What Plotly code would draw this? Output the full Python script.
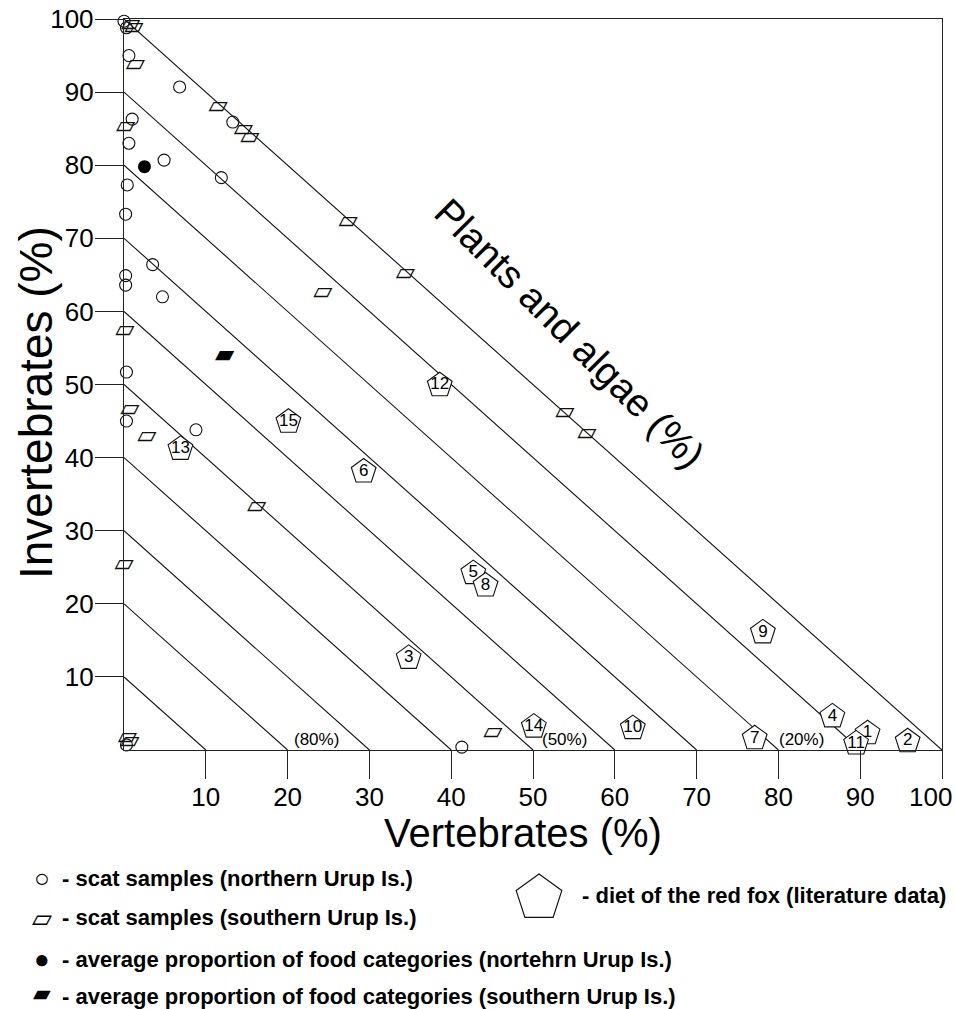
import plotly.graph_objects as go

# ---------------- data ----------------
# scat samples, northern Urup Is. (open circles): vertebrates %, invertebrates %
north_vert = [0.0, 0.3, 0.6, 6.8, 13.3, 1.0, 0.6, 4.9, 11.9, 0.4,
              0.2, 3.5, 0.2, 0.2, 4.7, 0.3, 0.3, 8.8, 0.3, 41.3]
north_invert = [99.7, 98.8, 95.0, 90.7, 85.9, 86.3, 83.0, 80.7, 78.3, 77.3,
                73.3, 66.4, 64.9, 63.6, 62.0, 51.7, 45.0, 43.8, 0.7, 0.4]

# scat samples, southern Urup Is. (open parallelograms)
south_vert = [0.8, 1.2, 1.4, 11.5, 14.6, 15.4, 0.2, 27.4, 34.4, 24.3,
              53.9, 56.6, 0.1, 0.7, 2.8, 16.2, 0.0, 0.4, 0.7, 45.1]
south_invert = [99.2, 98.8, 93.8, 88.0, 84.9, 83.8, 85.2, 72.3, 65.1, 62.5,
                46.1, 43.2, 57.3, 46.5, 42.9, 33.3, 25.4, 1.7, 1.1, 2.3]

# average proportions
mean_north_vert, mean_north_invert = [2.5], [79.8]
mean_south_vert, mean_south_invert = [12.3], [54.0]

# diet of the red fox (literature data), numbered pentagons
fox_ids = ["1", "2", "3", "4", "5", "6", "7", "8", "9", "10", "11", "12", "13", "14", "15"]
fox_vert = [90.9, 95.8, 34.8, 86.6, 42.7, 29.3, 77.1, 44.2, 78.1, 62.2, 89.5, 38.6, 6.9, 50.1, 20.1]
fox_invert = [2.3, 1.2, 12.6, 4.6, 24.2, 38.1, 1.6, 22.5, 16.1, 3.0, 0.9, 49.9, 41.2, 3.2, 44.9]

# iso-lines of plants and algae share (vertebrates + invertebrates = level)
iso_levels = [10, 20, 30, 40, 50, 60, 70, 80, 90, 100]
iso_label_text = ["(80%)", "(50%)", "(20%)"]
iso_label_x = [20.5, 50.9, 79.8]
tick_vals = [10, 20, 30, 40, 50, 60, 70, 80, 90, 100]
x_tick_text = ["10", "20", "30", "40", "50", "60", "70", "80", "90", ""]  # "100" placed separately

FONT = "Liberation Sans, Arial, sans-serif"
SYM = "DejaVu Sans, sans-serif"
INK = "#111111"

fig = go.Figure()

# iso-lines
lx, ly = [], []
for k in iso_levels:
    lx += [k, 0, None]
    ly += [0, k, None]
fig.add_trace(go.Scatter(x=lx, y=ly, mode="lines",
                         line=dict(color=INK, width=1.1),
                         hoverinfo="skip", showlegend=False))

# northern samples
fig.add_trace(go.Scatter(x=north_vert, y=north_invert, mode="markers",
                         marker=dict(symbol="circle-open", size=12, color=INK,
                                     line=dict(color=INK, width=1.1)),
                         cliponaxis=False, showlegend=False))
# southern samples (parallelogram glyphs)
fig.add_trace(go.Scatter(x=south_vert, y=south_invert, mode="text",
                         text=["\u25b1"] * len(south_vert),
                         textposition="middle center",
                         textfont=dict(family=SYM, size=25, color=INK),
                         cliponaxis=False, showlegend=False))
# averages
fig.add_trace(go.Scatter(x=mean_north_vert, y=mean_north_invert, mode="markers",
                         marker=dict(symbol="circle", size=13, color="black"),
                         cliponaxis=False, showlegend=False))
fig.add_trace(go.Scatter(x=mean_south_vert, y=mean_south_invert, mode="text",
                         text=["\u25b0"], textposition="middle center",
                         textfont=dict(family=SYM, size=25, color="black"),
                         cliponaxis=False, showlegend=False))
# red fox literature data
fig.add_trace(go.Scatter(x=fox_vert, y=fox_invert, mode="markers+text",
                         text=fox_ids, textposition="middle center",
                         textfont=dict(family=FONT, size=17, color="black"),
                         marker=dict(symbol="pentagon", size=26, color="white",
                                     line=dict(color=INK, width=1.1)),
                         cliponaxis=False, showlegend=False))

ann = []
for lab, xl in zip(iso_label_text, iso_label_x):
    ann.append(dict(x=xl, y=1.5, xref="x", yref="y", text=lab, showarrow=False,
                    xanchor="left", yanchor="middle",
                    font=dict(family=FONT, size=17, color="black")))


def px_x(p):
    return (p - 124) / 818.0


def px_y(p):
    return (750 - p) / 731.0


# last x tick label, nudged left so it stays inside the page (as in the original)
ann.append(dict(x=px_x(930), y=px_y(797), xref="paper", yref="paper",
                text="100", showarrow=False, xanchor="center", yanchor="middle",
                font=dict(family=FONT, size=26, color="black")))

ann.append(dict(x=px_x(523), y=px_y(833), xref="paper", yref="paper",
                text="Vertebrates (%)", showarrow=False,
                xanchor="center", yanchor="middle",
                font=dict(family=FONT, size=40, color="black")))
ann.append(dict(x=px_x(36), y=px_y(403), xref="paper", yref="paper",
                text="Invertebrates (%)", showarrow=False, textangle=-90,
                xanchor="center", yanchor="middle",
                font=dict(family=FONT, size=46, color="black")))
ann.append(dict(x=px_x(570), y=px_y(333), xref="paper", yref="paper",
                text="Plants and algae (%)", showarrow=False, textangle=45,
                xanchor="center", yanchor="middle",
                font=dict(family=FONT, size=39, color="black")))

legend_rows = [
    ("\u25cb", FONT, 26, 878, 878, "- scat samples (northern Urup Is.)"),
    ("\u25b1", SYM, 26, 918, 918, "- scat samples (southern Urup Is.)"),
    ("\u25cf", FONT, 26, 959, 959, "- average proportion of food categories (nortehrn Urup Is.)"),
    ("\u25b0", SYM, 23, 993, 996, "- average proportion of food categories (southern Urup Is.)"),
]
for sym, fam, fs, py_sym, py, txt in legend_rows:
    ann.append(dict(x=px_x(42), y=px_y(py_sym), xref="paper", yref="paper",
                    text=sym, showarrow=False, xanchor="center", yanchor="middle",
                    font=dict(family=fam, size=fs, color="black")))
    ann.append(dict(x=px_x(60), y=px_y(py), xref="paper", yref="paper",
                    text="<b>" + txt + "</b>", showarrow=False,
                    xanchor="left", yanchor="middle",
                    font=dict(family=FONT, size=22, color="black")))
ann.append(dict(x=px_x(580), y=px_y(895), xref="paper", yref="paper",
                text="<b>- diet of the red fox (literature data)</b>", showarrow=False,
                xanchor="left", yanchor="middle",
                font=dict(family=FONT, size=22, color="black")))

# legend key pentagon (pixel-sized shape anchored below the plot)
R = 24
pent = "M 0 {a} L {b} {c} L {d} {e} L -{d} {e} L -{b} {c} Z".format(
    a=R, b=round(0.951 * R, 1), c=round(0.309 * R, 1),
    d=round(0.588 * R, 1), e=round(-0.809 * R, 1))
shapes = [dict(type="path", xref="paper", yref="paper",
               xsizemode="pixel", ysizemode="pixel",
               xanchor=px_x(539), yanchor=px_y(898), path=pent,
               line=dict(color=INK, width=1.2), fillcolor="white")]

axis_common = dict(range=[0, 100], showgrid=False, zeroline=False, automargin=False,
                   showline=True, linecolor="#222222", linewidth=1.4, mirror=True,
                   ticks="outside", ticklen=28, tickwidth=1.3, tickcolor="#222222",
                   tickvals=tick_vals, ticklabelstandoff=-4,
                   tickfont=dict(family=FONT, size=26, color="black"))
xaxis = dict(axis_common, ticktext=x_tick_text)
yaxis = dict(axis_common)

fig.update_layout(
    width=955, height=1009,
    margin=dict(l=124, r=13, t=19, b=259),
    paper_bgcolor="white", plot_bgcolor="white",
    xaxis=xaxis, yaxis=yaxis,
    annotations=ann, shapes=shapes,
    showlegend=False,
)

fig.write_html("out.html", config={"displayModeBar": False},
               post_script="document.body.style.margin='0';document.body.style.overflow='hidden';")
